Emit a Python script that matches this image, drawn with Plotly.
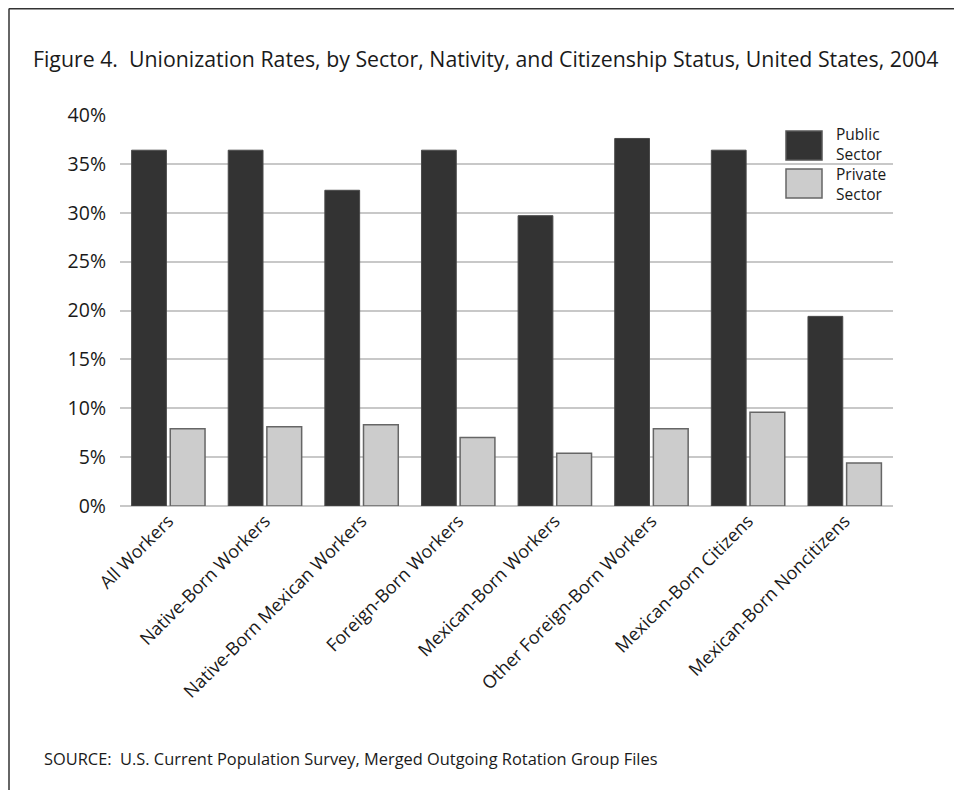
import plotly.graph_objects as go

categories = ["All Workers", "Native-Born Workers", "Native-Born Mexican Workers",
              "Foreign-Born Workers", "Mexican-Born Workers", "Other Foreign-Born Workers",
              "Mexican-Born Citizens", "Mexican-Born Noncitizens"]
public_sector = [36.4, 36.4, 32.3, 36.4, 29.7, 37.6, 36.4, 19.4]
private_sector = [7.9, 8.1, 8.3, 7.0, 5.4, 7.9, 9.6, 4.4]
y_ticks = [0, 5, 10, 15, 20, 25, 30, 35, 40]
y_tick_labels = [f"{v}%" for v in y_ticks]

OFF = 8  # page body margin
W, H = 962 - OFF, 790 - OFF
PL, PR, PT, PB = 120, 893, 115, 506
L, R, T, B = PL - OFF, PR - OFF, PT - OFF, PB - OFF
FONT = "Open Sans"

def px(x):
    return (x - OFF - L) / (R - L)

def py(y):
    return (B - (y - OFF)) / (B - T)

fig = go.Figure()
fig.add_trace(go.Bar(x=categories, y=public_sector, name="Public Sector",
                     marker=dict(color="#333333", line=dict(color="#4a4a4a", width=1))))
fig.add_trace(go.Bar(x=categories, y=private_sector, name="Private Sector",
                     marker=dict(color="#cccccc", line=dict(color="#666666", width=1.5))))

shapes = []
shapes.append(dict(type="rect", xref="paper", yref="paper", x0=px(773), x1=px(895),
                   y0=py(206), y1=py(122), fillcolor="white", line=dict(width=0), layer="between"))
shapes.append(dict(type="rect", xref="paper", yref="paper", x0=px(786), x1=px(822),
                   y0=py(160), y1=py(131), fillcolor="#333333", line=dict(color="#555555", width=1.5)))
shapes.append(dict(type="rect", xref="paper", yref="paper", x0=px(786), x1=px(822),
                   y0=py(198), y1=py(169), fillcolor="#cccccc", line=dict(color="#666666", width=1.5)))
shapes.append(dict(type="line", xref="paper", yref="paper", x0=px(9), x1=px(962),
                   y0=py(8.8), y1=py(8.8), line=dict(color="#333333", width=1.5)))
shapes.append(dict(type="line", xref="paper", yref="paper", x0=px(9), x1=px(9),
                   y0=py(8.5), y1=py(790), line=dict(color="#333333", width=1.5)))

annotations = []
for txt, yy in [("Public<br>Sector", 144), ("Private<br>Sector", 184)]:
    annotations.append(dict(text=txt, xref="paper", yref="paper", x=px(834), y=py(yy),
                            xanchor="left", yanchor="middle", align="left", showarrow=False,
                            font=dict(family=FONT, size=15.5, color="#1a1a1a")))
annotations.append(dict(text="SOURCE:  U.S. Current Population Survey, Merged Outgoing Rotation Group Files",
                        xref="paper", yref="paper", x=px(42), y=py(758), xanchor="left",
                        yanchor="middle", showarrow=False,
                        font=dict(family=FONT, size=16.4, color="#1a1a1a")))
annotations.append(dict(text="Figure 4.  Unionization Rates, by Sector, Nativity, and Citizenship Status, United States, 2004",
                        xref="paper", yref="paper", x=px(485), y=py(58), xanchor="center",
                        yanchor="middle", showarrow=False,
                        font=dict(family=FONT, size=21.3, color="#1a1a1a")))

fig.update_layout(
    width=W, height=H,
    margin=dict(l=L, r=W - R, t=T, b=H - B, pad=0),
    paper_bgcolor="white", plot_bgcolor="white",
    barmode="group", bargap=0.2, bargroupgap=0.1,
    showlegend=False,
    font=dict(family=FONT, color="#1a1a1a"),
    shapes=shapes, annotations=annotations,
)
fig.update_xaxes(tickangle=-45, tickfont=dict(family=FONT, size=18, color="#1a1a1a"),
                 showgrid=False, showline=False, ticks="", zeroline=False)
fig.update_yaxes(range=[0, 40], tickvals=y_ticks, ticktext=y_tick_labels,
                 tickfont=dict(family=FONT, size=19.5, color="#1a1a1a"),
                 showgrid=True, gridcolor="#c8c8c8", gridwidth=2,
                 zeroline=True, zerolinecolor="#c8c8c8", zerolinewidth=2,
                 showline=False, ticks="", ticklabelstandoff=13)

fig.write_html("out.html")
